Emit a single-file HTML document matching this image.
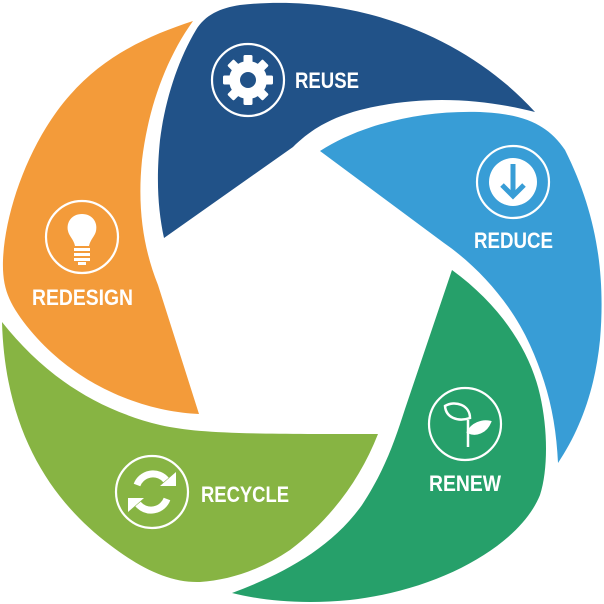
<!DOCTYPE html>
<html><head><style>html,body{margin:0;padding:0;background:#fff}svg{display:block}</style></head>
<body>
<svg width="604" height="604" viewBox="0 0 604 604" xmlns="http://www.w3.org/2000/svg" font-family="'Liberation Sans Narrow','Liberation Sans',sans-serif" font-weight="bold">
<!-- REUSE -->
<path fill="#215288" d="M196,30 C205,15 220,8 240,5 C360,-8 470,40 535,112 C480,98 420,95 360,110 C330,118 310,130 293,147 L164,238 C158,210 156,180 160,140 C165,100 178,60 196,30 Z"/>
<!-- REDUCE -->
<path fill="#389dd6" d="M320,151 C360,125 420,110 480,112 C525,114 548,125 565,150 C595,210 606,270 600,340 C595,390 580,430 558,463 C556,420 548,385 530,345 C512,305 480,268 444,243 Z"/>
<!-- RENEW -->
<path fill="#26a06a" d="M452,270 C500,305 530,350 540,395 C548,430 548,470 540,495 C520,545 440,590 350,600 C300,605 260,600 232,593 C280,575 330,550 362,505 C385,470 395,440 405,409 Z"/>
<!-- RECYCLE -->
<path fill="#87b443" d="M2,322 C40,370 90,408 160,425 C200,434 250,434 378,434 C360,480 330,520 290,550 C260,570 230,580 200,582 C170,583 140,568 110,545 C50,500 5,430 2,322 Z"/>
<!-- REDESIGN -->
<path fill="#f39b3a" d="M193,21 C165,60 148,110 142,160 C137,210 144,250 158,285 L199,414 C150,412 80,390 30,330 C10,305 2,290 3,260 C5,210 30,140 70,95 C105,55 150,35 193,21 Z"/>

<g fill="none" stroke="#fff" stroke-width="2.2">
<circle cx="248" cy="80" r="36"/>
<circle cx="513" cy="182" r="36"/>
<circle cx="465" cy="424" r="36"/>
<circle cx="152" cy="492" r="36"/>
<circle cx="82" cy="237" r="36"/>
</g>
<!-- gear -->
<g transform="translate(248,80)" fill="#fff">
<g>
<rect x="-4.5" y="-25" width="9" height="50" rx="1.5"/>
<rect x="-4.5" y="-25" width="9" height="50" rx="1.5" transform="rotate(45)"/>
<rect x="-4.5" y="-25" width="9" height="50" rx="1.5" transform="rotate(90)"/>
<rect x="-4.5" y="-25" width="9" height="50" rx="1.5" transform="rotate(135)"/>
</g>
<circle r="19"/>
<circle r="8" fill="#215288"/>
</g>
<!-- reduce -->
<circle cx="513" cy="182" r="24" fill="#fff"/>
<path d="M513,164 V196 M502,185 L513,196 L524,185" stroke="#389dd6" stroke-width="5" fill="none"/>
<!-- renew -->
<g stroke="#fff" stroke-width="2.5" fill="#fff">
<line x1="468" y1="420" x2="468" y2="447"/>
<path d="M445,406 C455,400 470,405 470,418 C458,422 446,418 445,406 Z" fill="none"/>
<path d="M468,432 C472,424 482,420 490,422 C486,432 476,436 468,432 Z"/>
</g>
<!-- recycle -->
<g fill="none" stroke="#fff" stroke-width="7">
<path d="M137,485 A17,17 0 0 1 166,480"/>
<path d="M167,499 A17,17 0 0 1 138,504"/>
</g>
<path fill="#fff" d="M160,486 L176,486 L176,472 Z M144,498 L128,498 L128,512 Z"/>
<!-- bulb -->
<g fill="#fff">
<path d="M82,214 C92,214 98,222 96,231 C95,236 90,240 89,246 L75,246 C74,240 69,236 68,231 C66,222 72,214 82,214 Z"/>
<rect x="74" y="248" width="16" height="3"/>
<rect x="74" y="253" width="16" height="3"/>
<rect x="74" y="258" width="16" height="3"/>
<rect x="78" y="262" width="8" height="3"/>
</g>

<g fill="#fff" font-size="22">
<text x="295" y="88" textLength="64" lengthAdjust="spacingAndGlyphs">REUSE</text>
<text x="474" y="248" textLength="79" lengthAdjust="spacingAndGlyphs">REDUCE</text>
<text x="429" y="491" textLength="72" lengthAdjust="spacingAndGlyphs">RENEW</text>
<text x="201" y="502" textLength="88" lengthAdjust="spacingAndGlyphs">RECYCLE</text>
<text x="32" y="305" textLength="101" lengthAdjust="spacingAndGlyphs">REDESIGN</text>
</g>
</svg>
</body></html>
